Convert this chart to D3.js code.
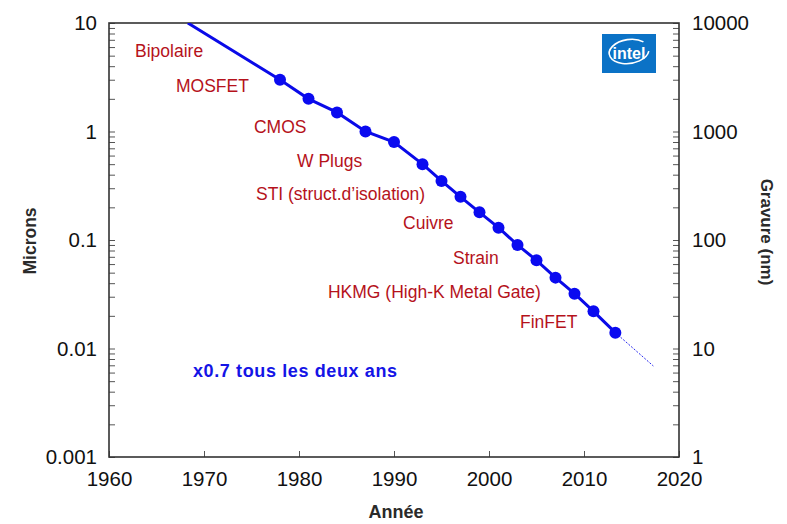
<!DOCTYPE html>
<html><head><meta charset="utf-8">
<script src="https://cdn.jsdelivr.net/npm/d3@7"></script>
<style>
html,body{margin:0;padding:0;background:#fff;}
svg text{font-family:"Liberation Sans",Arial,Helvetica,sans-serif;}
</style></head>
<body><svg id="c" width="787" height="524"></svg>
<script>
// ---- data ----
const years   = [1978,1981,1984,1987,1990,1993,1995,1997,1999,2001,2003,2005,2007,2009,2011,2013.3];
const microns = [3,2,1.5,1,0.8,0.5,0.35,0.25,0.18,0.13,0.09,0.065,0.045,0.032,0.022,0.014];
const trendStartYear = 1968.3, trendStartMicrons = 10;
const projYears = [2013.3, 2017.3];
const projMicrons = [0.014, 0.0069];
const xTicks = [1960,1970,1980,1990,2000,2010,2020];
const yMajor = [0.001,0.01,0.1,1,10];
const yMajorLabels = ["0.001","0.01","0.1","1","10"];
const nmMajor = [1,10,100,1000,10000];
const nmMajorLabels = ["1","10","100","1000","10000"];
const techLabels = ["Bipolaire","MOSFET","CMOS","W Plugs","STI (struct.d\u2019isolation)","Cuivre","Strain","HKMG (High-K Metal Gate)","FinFET"];
const techYears  = [1962.74,1967.05,1975.26,1979.79,1975.47,1990.95,1996.21,1983.05,2003.26];
const techMicrons= [4.86,2.31,0.97,0.471,0.234,0.126,0.0601,0.0292,0.01545];
const rateLabel = "x0.7 tous les deux ans";

// ---- layout ----
const L=109, R=679, T=23, B=457;
const svg = d3.select("#c");
const x = d3.scaleLinear().domain([1960,2020]).range([L,R]);
const y = d3.scaleLog().domain([0.001,10]).range([B,T]);
const yR = d3.scaleLog().domain([1,10000]).range([B,T]);

// all log ticks (majors + minors)
const allY = [];
for (let e=-3;e<1;e++) for (let m=1;m<10;m++) allY.push(m*Math.pow(10,e));
allY.push(10);
const allNm = allY.map(v=>v*1000);

const axisColor="#333";
const gl = svg.append("g").attr("transform",`translate(${L},0)`)
  .call(d3.axisLeft(y).tickValues(allY).tickSizeInner(-6).tickSizeOuter(0).tickPadding(12)
    .tickFormat(d=>{const i=yMajor.findIndex(v=>Math.abs(v-d)/d<1e-6);return i>=0?yMajorLabels[i]:"";}));
const gr = svg.append("g").attr("transform",`translate(${R},0)`)
  .call(d3.axisRight(yR).tickValues(allNm).tickSizeInner(-6).tickSizeOuter(0).tickPadding(13)
    .tickFormat(d=>{const i=nmMajor.findIndex(v=>Math.abs(v-d)/d<1e-6);return i>=0?nmMajorLabels[i]:"";}));
const gb = svg.append("g").attr("transform",`translate(0,${B})`)
  .call(d3.axisBottom(x).tickValues(xTicks).tickSizeInner(-6).tickSizeOuter(0).tickPadding(14).tickFormat(d3.format("d")));
[gl,gr,gb].forEach(g=>{
  g.select(".domain").remove();
  g.selectAll(".tick line").attr("stroke","#555").attr("stroke-width",1);
  g.selectAll(".tick text").attr("fill","#111").style("font-size","20.5px");
});
svg.append("rect").attr("x",L).attr("y",T).attr("width",R-L).attr("height",B-T)
  .attr("fill","none").attr("stroke",axisColor).attr("stroke-width",1.6);

svg.append("clipPath").attr("id","clip").append("rect").attr("x",L).attr("y",T).attr("width",R-L).attr("height",B-T);
const plot = svg.append("g").attr("clip-path","url(#clip)");

const trendX=[trendStartYear,...years], trendY=[trendStartMicrons,...microns];
const line = d3.line().x(d=>x(d[0])).y(d=>y(d[1]));
plot.append("path").datum(trendX.map((v,i)=>[v,trendY[i]]))
  .attr("d",line).attr("fill","none").attr("stroke","#0a0ae8").attr("stroke-width",3);
plot.append("path").datum(projYears.map((v,i)=>[v,projMicrons[i]]))
  .attr("d",line).attr("fill","none").attr("stroke","#2a2af0").attr("stroke-width",1).attr("stroke-dasharray","2,1.5");
plot.selectAll("circle.pt").data(years).enter().append("circle").attr("class","pt")
  .attr("cx",d=>x(d)).attr("cy",(d,i)=>y(microns[i])).attr("r",6).attr("fill","#0a0af0");

svg.selectAll("text.tech").data(techLabels).enter().append("text").attr("class","tech")
  .attr("x",(d,i)=>x(techYears[i])).attr("y",(d,i)=>y(techMicrons[i]))
  .attr("fill","#b5121b").style("font-size","17.5px").text(d=>d);

svg.append("text").attr("x",193).attr("y",377).attr("fill","#1414e6")
  .style("font-size","18px").style("font-weight","bold").attr("textLength",204).attr("lengthAdjust","spacing")
  .text(rateLabel);

svg.append("text").attr("transform","translate(30,241) rotate(-90)").attr("text-anchor","middle").attr("dy","0.35em")
  .attr("fill","#2a2a2a").style("font-size","17.5px").style("font-weight","bold").text("Microns");
svg.append("text").attr("transform","translate(767,232) rotate(90)").attr("text-anchor","middle").attr("dy","0.35em")
  .attr("fill","#2a2a2a").style("font-size","17px").style("font-weight","bold").text("Gravure (nm)");
svg.append("text").attr("x",396).attr("y",518).attr("text-anchor","middle")
  .attr("fill","#2a2a2a").style("font-size","18px").style("font-weight","bold").text("Année");

const lg = svg.append("g");
lg.append("rect").attr("x",602).attr("y",34).attr("width",54).attr("height",39).attr("fill","#0b72c6");
lg.append("text").attr("x",629).attr("y",59).attr("text-anchor","middle").attr("fill","#fff")
  .style("font-size","16px").style("font-weight","bold").text("intel");
lg.append("path").attr("d","M 645 44 A 20 12 0 1 0 649 54").attr("fill","none").attr("stroke","#fff").attr("stroke-width",1.6)
  .attr("transform","rotate(-8 629 54)");
</script></body></html>
